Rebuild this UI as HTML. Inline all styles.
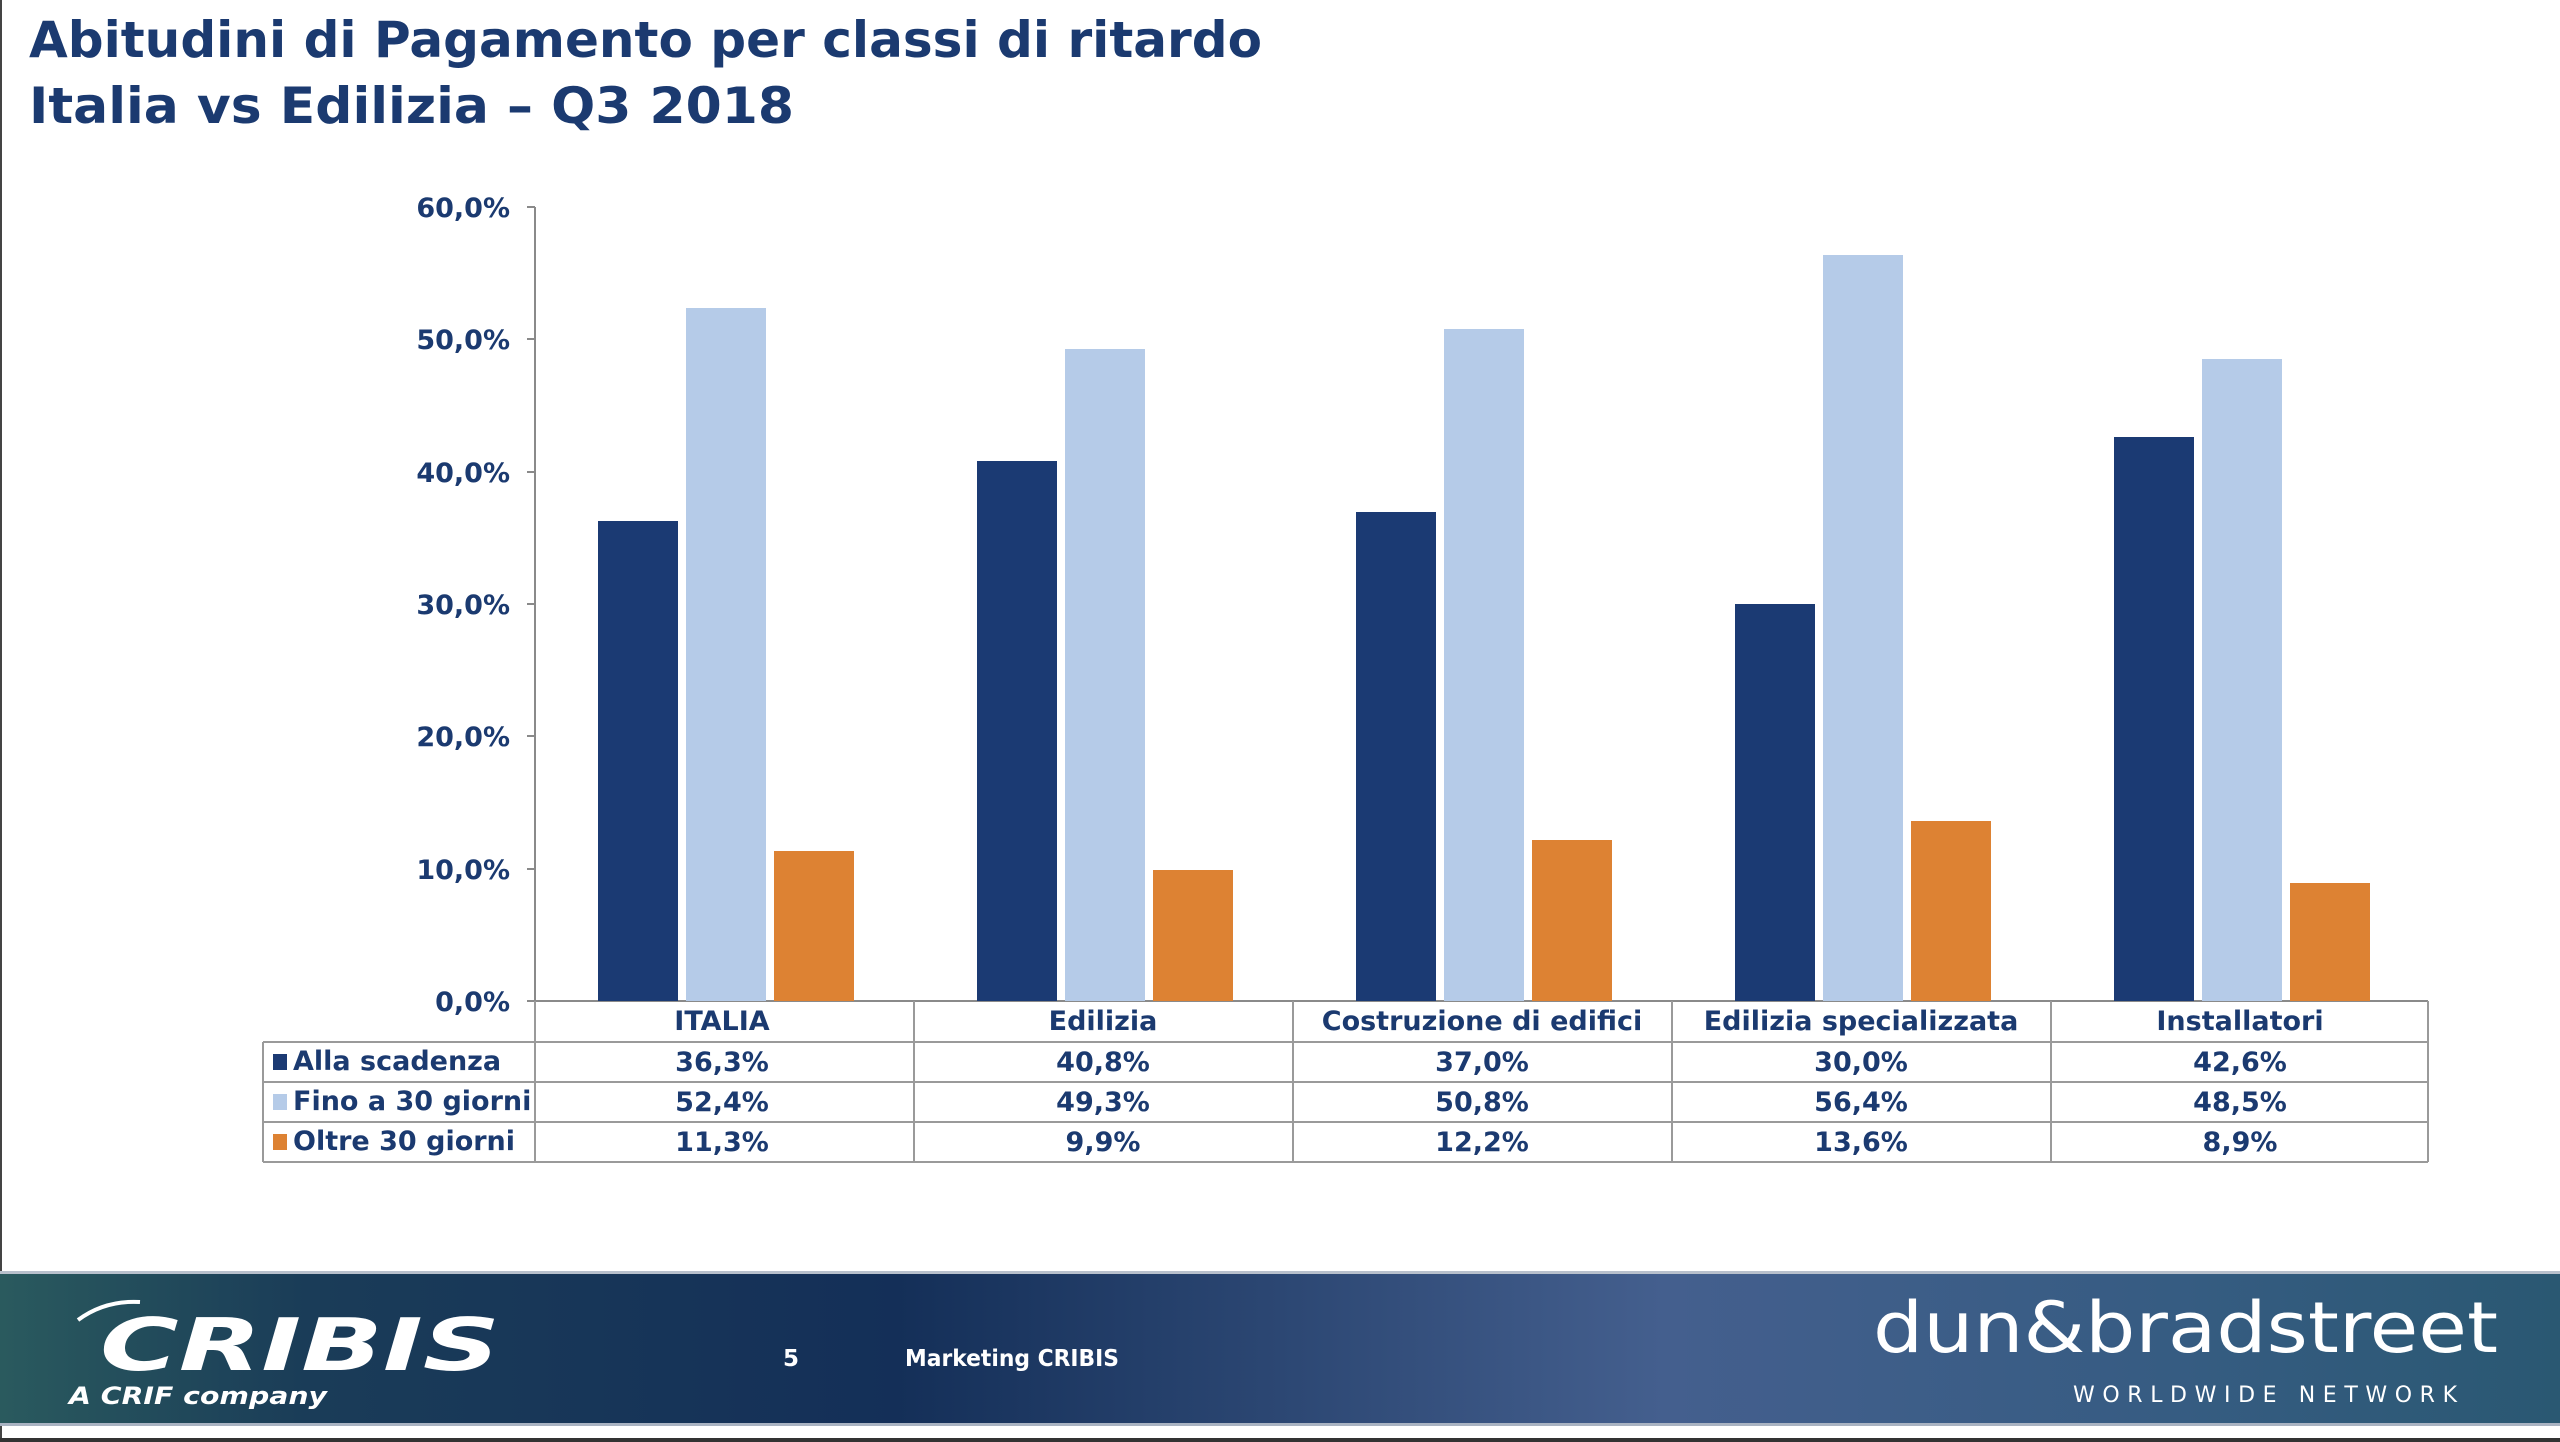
<!DOCTYPE html>
<html><head><meta charset="utf-8"><style>
html,body{margin:0;padding:0;background:#fff;}
svg{display:block;}
text{font-family:"DejaVu Sans","Liberation Sans",sans-serif;font-weight:bold;}
</style></head><body>
<svg width="2560" height="1442" viewBox="0 0 2560 1442" xmlns="http://www.w3.org/2000/svg">
<defs>
<linearGradient id="ft" x1="0" y1="0" x2="1" y2="0">
<stop offset="0" stop-color="#2a5a5e"/>
<stop offset="0.12" stop-color="#1a3c58"/>
<stop offset="0.35" stop-color="#142f58"/>
<stop offset="0.65" stop-color="#445f8e"/>
<stop offset="0.85" stop-color="#365c82"/>
<stop offset="1" stop-color="#2a5872"/>
</linearGradient>
</defs>
<rect x="0" y="0" width="2560" height="1442" fill="#fff"/>
<rect x="0" y="0" width="2" height="1442" fill="#444"/>
<text x="29" y="57" font-size="50" fill="#1b3a70" textLength="1233" lengthAdjust="spacingAndGlyphs">Abitudini di Pagamento per classi di ritardo</text>
<text x="29" y="123" font-size="50" fill="#1b3a70" textLength="765" lengthAdjust="spacingAndGlyphs">Italia vs Edilizia – Q3 2018</text>

<!-- axis -->
<g stroke="#8a8a8a" stroke-width="2">
<line x1="535" y1="207" x2="535" y2="1001"/>
<line x1="527" y1="207" x2="535" y2="207"/>
<line x1="527" y1="339" x2="535" y2="339"/>
<line x1="527" y1="472" x2="535" y2="472"/>
<line x1="527" y1="604" x2="535" y2="604"/>
<line x1="527" y1="736" x2="535" y2="736"/>
<line x1="527" y1="869" x2="535" y2="869"/>
<line x1="527" y1="1001" x2="2428" y2="1001"/>
</g>
<g font-size="27" fill="#1b3a70" text-anchor="end">
<text x="510" y="217">60,0%</text>
<text x="510" y="349">50,0%</text>
<text x="510" y="482">40,0%</text>
<text x="510" y="614">30,0%</text>
<text x="510" y="746">20,0%</text>
<text x="510" y="879">10,0%</text>
<text x="510" y="1011">0,0%</text>
</g>

<!-- bars: scale 13.23 px per % -->
<g>
<rect x="598" y="521" width="80" height="480" fill="#1b3a73"/>
<rect x="686" y="308" width="80" height="693" fill="#b5cbe8"/>
<rect x="774" y="851" width="80" height="150" fill="#dd8233"/>

<rect x="977" y="461" width="80" height="540" fill="#1b3a73"/>
<rect x="1065" y="349" width="80" height="652" fill="#b5cbe8"/>
<rect x="1153" y="870" width="80" height="131" fill="#dd8233"/>

<rect x="1356" y="512" width="80" height="489" fill="#1b3a73"/>
<rect x="1444" y="329" width="80" height="672" fill="#b5cbe8"/>
<rect x="1532" y="840" width="80" height="161" fill="#dd8233"/>

<rect x="1735" y="604" width="80" height="397" fill="#1b3a73"/>
<rect x="1823" y="255" width="80" height="746" fill="#b5cbe8"/>
<rect x="1911" y="821" width="80" height="180" fill="#dd8233"/>

<rect x="2114" y="437" width="80" height="564" fill="#1b3a73"/>
<rect x="2202" y="359" width="80" height="642" fill="#b5cbe8"/>
<rect x="2290" y="883" width="80" height="118" fill="#dd8233"/>
</g>

<!-- table -->
<g stroke="#9a9a9a" stroke-width="2" fill="none">
<line x1="263" y1="1042" x2="2428" y2="1042"/>
<line x1="263" y1="1082" x2="2428" y2="1082"/>
<line x1="263" y1="1122" x2="2428" y2="1122"/>
<line x1="263" y1="1162" x2="2428" y2="1162"/>
<line x1="263" y1="1042" x2="263" y2="1162"/>
<line x1="535" y1="1001" x2="535" y2="1162"/>
<line x1="914" y1="1001" x2="914" y2="1162"/>
<line x1="1293" y1="1001" x2="1293" y2="1162"/>
<line x1="1672" y1="1001" x2="1672" y2="1162"/>
<line x1="2051" y1="1001" x2="2051" y2="1162"/>
<line x1="2428" y1="1001" x2="2428" y2="1162"/>
</g>
<g font-size="27" fill="#1b3a70" text-anchor="middle">
<text x="722" y="1030">ITALIA</text>
<text x="1103" y="1030">Edilizia</text>
<text x="1482" y="1030">Costruzione di edifici</text>
<text x="1861" y="1030">Edilizia specializzata</text>
<text x="2240" y="1030">Installatori</text>

<text x="722" y="1071">36,3%</text>
<text x="1103" y="1071">40,8%</text>
<text x="1482" y="1071">37,0%</text>
<text x="1861" y="1071">30,0%</text>
<text x="2240" y="1071">42,6%</text>

<text x="722" y="1111">52,4%</text>
<text x="1103" y="1111">49,3%</text>
<text x="1482" y="1111">50,8%</text>
<text x="1861" y="1111">56,4%</text>
<text x="2240" y="1111">48,5%</text>

<text x="722" y="1151">11,3%</text>
<text x="1103" y="1151">9,9%</text>
<text x="1482" y="1151">12,2%</text>
<text x="1861" y="1151">13,6%</text>
<text x="2240" y="1151">8,9%</text>
</g>
<rect x="273" y="1054" width="14" height="16" fill="#1b3a73"/>
<rect x="273" y="1094" width="14" height="16" fill="#b5cbe8"/>
<rect x="273" y="1134" width="14" height="16" fill="#dd8233"/>
<g font-size="27" fill="#1b3a70">
<text x="293" y="1070">Alla scadenza</text>
<text x="293" y="1110">Fino a 30 giorni</text>
<text x="293" y="1150">Oltre 30 giorni</text>
</g>

<!-- footer -->
<rect x="0" y="1271" width="2560" height="3" fill="#b8c0cc"/>
<rect x="0" y="1274" width="2560" height="149" fill="url(#ft)"/>
<rect x="0" y="1423" width="2560" height="3" fill="#a9b3c2"/>
<rect x="0" y="1438" width="2560" height="4" fill="#333"/>
<text x="100" y="1370" font-size="72" fill="#fff" font-style="italic" textLength="400" lengthAdjust="spacingAndGlyphs">CRIBIS</text>
<path d="M78 1320 Q105 1300 140 1302" stroke="#fff" stroke-width="4" fill="none"/>
<text x="69" y="1404" font-size="24" fill="#fff" font-style="italic" font-weight="normal" textLength="258" lengthAdjust="spacingAndGlyphs">A  CRIF company</text>
<text x="783" y="1366" font-size="23" fill="#fff" font-family="Liberation Sans">5</text>
<text x="905" y="1366" font-size="23" fill="#fff" textLength="214" lengthAdjust="spacingAndGlyphs">Marketing CRIBIS</text>
<text x="1873" y="1352" font-size="70" fill="#fff" style="font-weight:normal;font-family:'DejaVu Sans',sans-serif" textLength="625" lengthAdjust="spacingAndGlyphs">dun&amp;bradstreet</text>
<text x="2073" y="1402" font-size="22" fill="#fff" style="font-weight:normal" textLength="384" lengthAdjust="spacing">WORLDWIDE NETWORK</text>
</svg>
</body></html>
